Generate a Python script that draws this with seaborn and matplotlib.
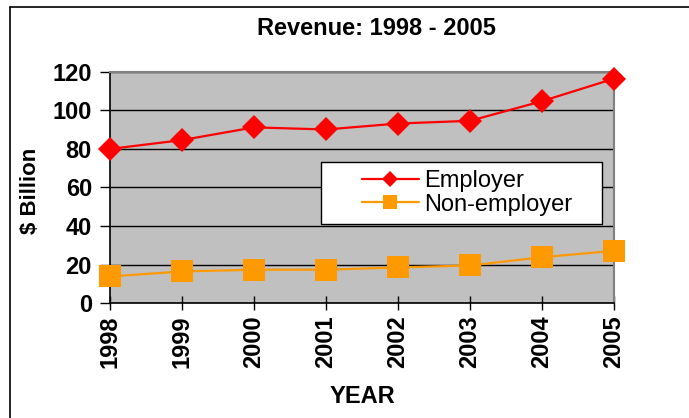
import pandas as pd
import matplotlib.pyplot as plt
import seaborn as sns
from matplotlib.lines import Line2D
from matplotlib.patches import Rectangle

# data ($ billion)
years = [1998, 1999, 2000, 2001, 2002, 2003, 2004, 2005]
employer = [80.0, 84.6, 91.2, 90.1, 93.2, 94.6, 104.8, 116.5]
non_employer = [13.8, 16.4, 17.3, 17.3, 18.5, 19.5, 23.8, 27.1]
series_names = ["Employer", "Non-employer"]
y_ticks = [0, 20, 40, 60, 80, 100, 120]

df = pd.concat([
    pd.DataFrame({"year": years, "value": employer, "series": series_names[0]}),
    pd.DataFrame({"year": years, "value": non_employer, "series": series_names[1]}),
], ignore_index=True)

sns.set_style("white")
plt.rcParams["font.family"] = ["Liberation Sans", "DejaVu Sans"]
plt.rcParams["text.color"] = "black"
plt.rcParams["axes.labelcolor"] = "black"
plt.rcParams["xtick.color"] = "black"
plt.rcParams["ytick.color"] = "black"

fig = plt.figure(figsize=(6.89, 4.18), dpi=100)
ax = fig.add_axes([0.1597, 0.275, 0.7315, 0.553])
ax.set_facecolor("#C0C0C0")

palette = {"Employer": "#FF0000", "Non-employer": "#FF9900"}
markers = {"Employer": "D", "Non-employer": "s"}
sizes = {"Employer": 12, "Non-employer": 16}

for name in series_names:
    sub = df[df["series"] == name]
    sns.lineplot(data=sub, x="year", y="value", ax=ax, color=palette[name],
                 marker=markers[name], markersize=sizes[name], markeredgewidth=0,
                 linewidth=1.6, label=name, clip_on=False, zorder=5)

ax.set_xlim(years[0], years[-1])
ax.set_ylim(0, 120)
ax.set_yticks(y_ticks)
ax.set_xticks(years)
ax.set_xticklabels([str(y) for y in years], rotation=90)
ax.grid(axis="y", color="black", linewidth=1)
ax.set_axisbelow(True)

for lab in ax.get_yticklabels() + ax.get_xticklabels():
    lab.set_fontweight("bold")
    lab.set_fontsize(17)
    lab.set_color("black")

ax.tick_params(axis="y", direction="out", length=7, width=1, color="black", left=True, pad=6)
ax.tick_params(axis="x", direction="inout", length=10, width=1, color="black", bottom=True, pad=4)

ax.spines["left"].set_color("black")
ax.spines["bottom"].set_color("black")
ax.spines["left"].set_linewidth(1.2)
ax.spines["bottom"].set_linewidth(1.2)
ax.spines["top"].set_color("#808080")
ax.spines["right"].set_color("#808080")
ax.spines["top"].set_linewidth(1.5)
ax.spines["right"].set_linewidth(1.5)

ax.set_xlabel("YEAR", fontsize=17, fontweight="bold", labelpad=12)
ax.set_ylabel("$ Billion", fontsize=16, fontweight="bold")
ax.yaxis.set_label_coords(-0.136, 0.485)
fig.text(0.547, 0.933, "Revenue: 1998 - 2005", ha="center", va="center",
         fontsize=17, fontweight="bold")

# legend box: white frame drawn separately so the entries sit with a wide left margin
ax.add_patch(Rectangle((0.419, 0.342), 0.557, 0.268, transform=ax.transAxes,
                       facecolor="white", edgecolor="black", linewidth=1, zorder=6))
leg = ax.legend(loc="center left", bbox_to_anchor=(0.50, 0.476), fontsize=17,
                frameon=False, handlelength=2.4, handletextpad=0.25,
                labelspacing=0.05, markerscale=0.65, borderaxespad=0, borderpad=0)
leg.set_zorder(7)
for t in leg.get_texts():
    t.set_fontweight("normal")
    t.set_color("black")

# outer border of the chart area (top and left edges visible)
top = 1 - 7 / 418
left = 10 / 689
fig.lines.append(Line2D([left, 1.0], [top, top], transform=fig.transFigure,
                        color="black", linewidth=1.2))
fig.lines.append(Line2D([left, left], [0.0, top], transform=fig.transFigure,
                        color="black", linewidth=1.2))

fig.savefig("out.png", dpi=100)
